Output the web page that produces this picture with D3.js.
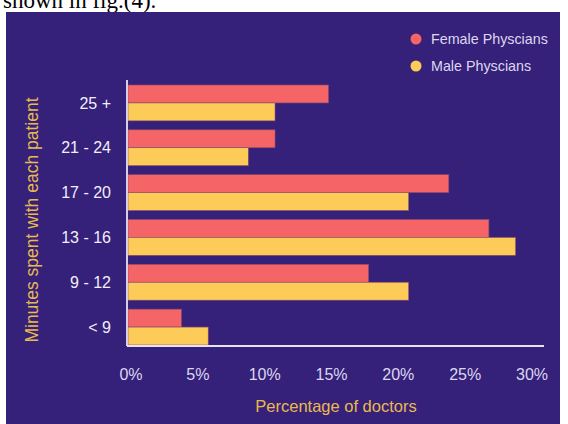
<!DOCTYPE html>
<html>
<head>
<meta charset="utf-8">
<script src="https://cdn.jsdelivr.net/npm/d3@7"></script>
<style>
  body { margin: 0; background: #fff; }
  svg { display: block; }
</style>
</head>
<body>
<div id="chart"></div>
<script>
// minute ranges, top to bottom
const categories = ["25 +", "21 - 24", "17 - 20", "13 - 16", "9 - 12", "< 9"];
const femaleValues = [15, 11, 24, 27, 18, 4];
const maleValues = [11, 9, 21, 29, 21, 6];
const xTicks = [0, 5, 10, 15, 20, 25, 30];
const seriesNames = ["Female Physcians", "Male Physcians"];
const seriesColors = ["#f56466", "#fdcc58"];

const W = 568, H = 424;
const font = "Liberation Sans, Arial, sans-serif";

const svg = d3.select("#chart")
  .append("svg")
  .attr("width", W)
  .attr("height", H);

// the caption line above the figure, cut off by the crop
svg.append("text")
  .attr("x", 3)
  .attr("y", 8)
  .attr("font-family", "Liberation Serif, serif")
  .attr("font-size", 23)
  .attr("fill", "#000")
  .text("shown in fig.(4).");

// dark panel
svg.append("rect")
  .attr("x", 6).attr("y", 12)
  .attr("width", 554).attr("height", H - 12)
  .attr("fill", "#35217a");

const xScale = d3.scaleLinear().domain([0, 30]).range([128, 529]);
const yScale = d3.scaleBand()
  .domain(categories)
  .range([85, 345])
  .paddingInner(0.2)
  .paddingOuter(0);
const sub = d3.scaleBand()
  .domain([0, 1])
  .range([0, yScale.bandwidth()]);

const rows = categories.map((c, i) => ({ cat: c, vals: [femaleValues[i], maleValues[i]] }));

const groups = svg.append("g")
  .selectAll("g")
  .data(rows)
  .enter()
  .append("g")
    .attr("transform", d => `translate(0, ${yScale(d.cat)})`);

groups.selectAll("rect")
  .data(d => d.vals)
  .enter()
  .append("rect")
    .attr("x", xScale(0))
    .attr("y", (d, i) => sub(i))
    .attr("width", d => xScale(d) - xScale(0))
    .attr("height", sub.bandwidth())
    .attr("fill", (d, i) => seriesColors[i])
    .attr("stroke", "#8a4a6a")
    .attr("stroke-width", 0.6);

// axis lines
svg.append("line")
  .attr("x1", 127).attr("x2", 127)
  .attr("y1", 80).attr("y2", 346)
  .attr("stroke", "#e6e2f4").attr("stroke-width", 1.8);
svg.append("line")
  .attr("x1", 127).attr("x2", 544)
  .attr("y1", 346).attr("y2", 346)
  .attr("stroke", "#e6e2f4").attr("stroke-width", 1.8);

// category labels
svg.append("g")
  .selectAll("text")
  .data(categories)
  .enter()
  .append("text")
    .attr("x", 111)
    .attr("y", d => yScale(d) + yScale.bandwidth() / 2)
    .attr("dy", "0.35em")
    .attr("text-anchor", "end")
    .attr("font-family", font)
    .attr("font-size", 16)
    .attr("fill", "#f1eff8")
    .text(d => d);

// x tick labels
svg.append("g")
  .selectAll("text")
  .data(xTicks)
  .enter()
  .append("text")
    .attr("x", d => xScale(d) + 3)
    .attr("y", 380)
    .attr("text-anchor", "middle")
    .attr("font-family", font)
    .attr("font-size", 16)
    .attr("fill", "#dcd7ee")
    .text(d => d + "%");

// axis titles
svg.append("text")
  .attr("x", 336).attr("y", 412)
  .attr("text-anchor", "middle")
  .attr("font-family", font)
  .attr("font-size", 16.5)
  .attr("fill", "#e9b94f")
  .text("Percentage of doctors");

svg.append("text")
  .attr("transform", "translate(38, 220) rotate(-90)")
  .attr("text-anchor", "middle")
  .attr("font-family", font)
  .attr("font-size", 17.5)
  .attr("fill", "#e9b94f")
  .text("Minutes spent with each patient");

// legend
const legend = svg.append("g")
  .selectAll("g")
  .data(seriesNames)
  .enter()
  .append("g")
    .attr("transform", (d, i) => `translate(416, ${39 + i * 27})`);
legend.append("circle")
  .attr("r", 5.5)
  .attr("fill", (d, i) => seriesColors[i]);
legend.append("text")
  .attr("x", 15)
  .attr("dy", "0.35em")
  .attr("font-family", font)
  .attr("font-size", 14.3)
  .attr("fill", "#dcd7ee")
  .text(d => d);
</script>
</body>
</html>
